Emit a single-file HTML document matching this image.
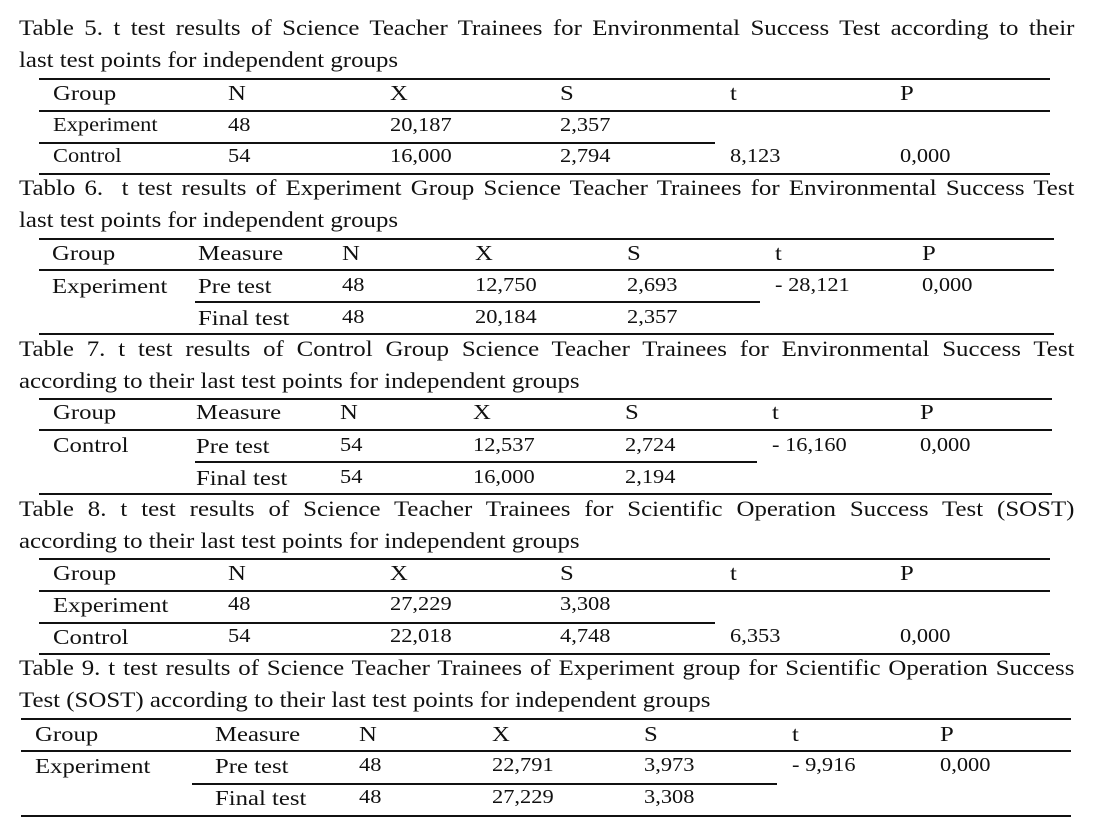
<!DOCTYPE html>
<html><head><meta charset="utf-8"><style>
body{margin:0;width:1094px;height:830px;background:#fff;position:relative;font-family:"Liberation Serif",serif;color:#111;overflow:hidden}
.t{position:absolute;left:19px;width:934px;font-size:22px;line-height:32px;white-space:nowrap;transform:scaleX(1.13);transform-origin:left top}
.j{text-align:justify;text-align-last:justify;white-space:normal}
.c{position:absolute;white-space:nowrap;line-height:24px;transform:translateY(-12px) scaleX(1.15);transform-origin:left center}
.h{font-size:21.5px}.d{font-size:19.5px}
.l{position:absolute;height:1.6px;background:#111}
</style></head><body>
<div class="t j" style="top:12px">Table 5. t test results of Science Teacher Trainees for Environmental Success Test according to their</div>
<div class="t" style="top:44px">last test points for independent groups</div>
<div class="t j" style="top:172px">Tablo 6.&nbsp; t test results of Experiment Group Science Teacher Trainees for Environmental Success Test</div>
<div class="t" style="top:204px">last test points for independent groups</div>
<div class="t j" style="top:333px">Table 7. t test results of Control Group Science Teacher Trainees for Environmental Success Test</div>
<div class="t" style="top:365px">according to their last test points for independent groups</div>
<div class="t j" style="top:493px">Table 8. t test results of Science Teacher Trainees for Scientific Operation Success Test (SOST)</div>
<div class="t" style="top:525px">according to their last test points for independent groups</div>
<div class="t j" style="top:652px">Table 9. t test results of Science Teacher Trainees of Experiment group for Scientific Operation Success</div>
<div class="t" style="top:684px">Test (SOST) according to their last test points for independent groups</div>

<!-- T5 -->
<div class="l" style="left:39px;width:1011px;top:78px"></div>
<div class="l" style="left:39px;width:1011px;top:110px"></div>
<div class="l" style="left:39px;width:676px;top:142px"></div>
<div class="l" style="left:39px;width:1011px;top:173px"></div>
<div class="c h" style="left:53px;top:93px">Group</div><div class="c h" style="left:228px;top:93px">N</div><div class="c h" style="left:390px;top:93px">X</div><div class="c h" style="left:560px;top:93px">S</div><div class="c h" style="left:730px;top:93px">t</div><div class="c h" style="left:900px;top:93px">P</div>
<div class="c d" style="left:53px;top:126px">Experiment</div><div class="c d" style="left:228px;top:126px">48</div><div class="c d" style="left:390px;top:126px">20,187</div><div class="c d" style="left:560px;top:126px">2,357</div>
<div class="c d" style="left:53px;top:157px">Control</div><div class="c d" style="left:228px;top:157px">54</div><div class="c d" style="left:390px;top:157px">16,000</div><div class="c d" style="left:560px;top:157px">2,794</div><div class="c d" style="left:730px;top:157px">8,123</div><div class="c d" style="left:900px;top:157px">0,000</div>

<!-- T6 -->
<div class="l" style="left:39px;width:1015px;top:238px"></div>
<div class="l" style="left:39px;width:1015px;top:269px"></div>
<div class="l" style="left:195px;width:565px;top:301px"></div>
<div class="l" style="left:39px;width:1015px;top:333px"></div>
<div class="c h" style="left:52px;top:253px">Group</div><div class="c h" style="left:198px;top:253px">Measure</div><div class="c h" style="left:342px;top:253px">N</div><div class="c h" style="left:475px;top:253px">X</div><div class="c h" style="left:627px;top:253px">S</div><div class="c h" style="left:775px;top:253px">t</div><div class="c h" style="left:922px;top:253px">P</div>
<div class="c h" style="left:52px;top:286px">Experiment</div><div class="c h" style="left:198px;top:286px">Pre test</div><div class="c d" style="left:342px;top:286px">48</div><div class="c d" style="left:475px;top:286px">12,750</div><div class="c d" style="left:627px;top:286px">2,693</div><div class="c d" style="left:775px;top:286px">- 28,121</div><div class="c d" style="left:922px;top:286px">0,000</div>
<div class="c h" style="left:198px;top:318px">Final test</div><div class="c d" style="left:342px;top:318px">48</div><div class="c d" style="left:475px;top:318px">20,184</div><div class="c d" style="left:627px;top:318px">2,357</div>

<!-- T7 -->
<div class="l" style="left:39px;width:1013px;top:398px"></div>
<div class="l" style="left:39px;width:1013px;top:429px"></div>
<div class="l" style="left:195px;width:562px;top:461px"></div>
<div class="l" style="left:39px;width:1013px;top:493px"></div>
<div class="c h" style="left:53px;top:412px">Group</div><div class="c h" style="left:196px;top:412px">Measure</div><div class="c h" style="left:340px;top:412px">N</div><div class="c h" style="left:473px;top:412px">X</div><div class="c h" style="left:625px;top:412px">S</div><div class="c h" style="left:772px;top:412px">t</div><div class="c h" style="left:920px;top:412px">P</div>
<div class="c h" style="left:53px;top:445px">Control</div><div class="c h" style="left:196px;top:446px">Pre test</div><div class="c d" style="left:340px;top:446px">54</div><div class="c d" style="left:473px;top:446px">12,537</div><div class="c d" style="left:625px;top:446px">2,724</div><div class="c d" style="left:772px;top:446px">- 16,160</div><div class="c d" style="left:920px;top:446px">0,000</div>
<div class="c h" style="left:196px;top:478px">Final test</div><div class="c d" style="left:340px;top:478px">54</div><div class="c d" style="left:473px;top:478px">16,000</div><div class="c d" style="left:625px;top:478px">2,194</div>

<!-- T8 -->
<div class="l" style="left:39px;width:1011px;top:558px"></div>
<div class="l" style="left:39px;width:1011px;top:590px"></div>
<div class="l" style="left:39px;width:676px;top:622px"></div>
<div class="l" style="left:39px;width:1011px;top:653px"></div>
<div class="c h" style="left:53px;top:573px">Group</div><div class="c h" style="left:228px;top:573px">N</div><div class="c h" style="left:390px;top:573px">X</div><div class="c h" style="left:560px;top:573px">S</div><div class="c h" style="left:730px;top:573px">t</div><div class="c h" style="left:900px;top:573px">P</div>
<div class="c h" style="left:53px;top:605px">Experiment</div><div class="c d" style="left:228px;top:605px">48</div><div class="c d" style="left:390px;top:605px">27,229</div><div class="c d" style="left:560px;top:605px">3,308</div>
<div class="c h" style="left:53px;top:637px">Control</div><div class="c d" style="left:228px;top:637px">54</div><div class="c d" style="left:390px;top:637px">22,018</div><div class="c d" style="left:560px;top:637px">4,748</div><div class="c d" style="left:730px;top:637px">6,353</div><div class="c d" style="left:900px;top:637px">0,000</div>

<!-- T9 -->
<div class="l" style="left:21px;width:1050px;top:718px"></div>
<div class="l" style="left:21px;width:1050px;top:750px"></div>
<div class="l" style="left:192px;width:585px;top:783px"></div>
<div class="l" style="left:21px;width:1050px;top:815px"></div>
<div class="c h" style="left:35px;top:734px">Group</div><div class="c h" style="left:215px;top:734px">Measure</div><div class="c h" style="left:359px;top:734px">N</div><div class="c h" style="left:492px;top:734px">X</div><div class="c h" style="left:644px;top:734px">S</div><div class="c h" style="left:792px;top:734px">t</div><div class="c h" style="left:940px;top:734px">P</div>
<div class="c h" style="left:35px;top:766px">Experiment</div><div class="c h" style="left:215px;top:766px">Pre test</div><div class="c d" style="left:359px;top:766px">48</div><div class="c d" style="left:492px;top:766px">22,791</div><div class="c d" style="left:644px;top:766px">3,973</div><div class="c d" style="left:792px;top:766px">- 9,916</div><div class="c d" style="left:940px;top:766px">0,000</div>
<div class="c h" style="left:215px;top:798px">Final test</div><div class="c d" style="left:359px;top:798px">48</div><div class="c d" style="left:492px;top:798px">27,229</div><div class="c d" style="left:644px;top:798px">3,308</div>
</body></html>
